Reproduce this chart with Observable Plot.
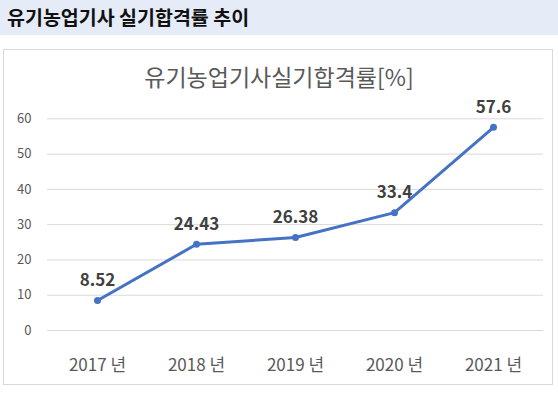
<!DOCTYPE html>
<html>
<head>
<meta charset="utf-8">
<script src="https://cdn.jsdelivr.net/npm/d3@7"></script>
<script src="https://cdn.jsdelivr.net/npm/@observablehq/plot@0.6"></script>
<style>
  html, body { margin: 0; padding: 0; background: #fff; }
  #page { position: relative; width: 558px; height: 395px; overflow: hidden; font-family: "Noto Sans CJK KR", "Noto Sans", sans-serif; }
  #header { position: absolute; left: 0; top: 0; width: 558px; height: 35px; background: #e5ecf7; }
  #header span { position: absolute; left: 7px; top: 5px; font-size: 19.5px; font-weight: bold; color: #111; line-height: 24px; }
  #box { position: absolute; left: 3px; top: 49px; width: 548px; height: 334px; border: 1px solid #d9d9d9; box-sizing: content-box; }
  #ctitle { position: absolute; left: 0; top: 61px; width: 558px; text-align: center; font-size: 23px; color: #595959; line-height: 30px; }
  #chart { position: absolute; left: 0; top: 0; }
</style>
</head>
<body>
<div id="page">
  <div id="header"><span>유기농업기사 실기합격률 추이</span></div>
  <div id="box"></div>
  <div id="ctitle">유기농업기사실기합격률[%]</div>
  <div id="chart"></div>
</div>
<script>
const years = ["2017 년", "2018 년", "2019 년", "2020 년", "2021 년"];
const rates = [8.52, 24.43, 26.38, 33.4, 57.6];
const labels = ["8.52", "24.43", "26.38", "33.4", "57.6"];
const yTicks = [0, 10, 20, 30, 40, 50, 60];

const data = years.map((y, i) => ({year: y, rate: rates[i], label: labels[i]}));

const chart = Plot.plot({
  width: 558,
  height: 395,
  marginLeft: 47,
  marginRight: 15,
  marginTop: 118.3,
  marginBottom: 65,
  style: {background: "transparent", fontFamily: "'Noto Sans CJK KR', sans-serif"},
  x: {type: "point", domain: years, padding: 0.5, label: null},
  y: {domain: [0, 60], label: null},
  marks: [
    Plot.ruleY(yTicks, {stroke: "#d9d9d9", strokeWidth: 1}),
    Plot.axisY(yTicks, {tickSize: 0, tickPadding: 16, fontSize: 13, fill: "#595959", label: null}),
    Plot.axisX(years, {tickSize: 0, tickPadding: 28, fontSize: 17, fill: "#595959", label: null}),
    Plot.line(data, {x: "year", y: "rate", stroke: "#4472c4", strokeWidth: 3, strokeLinejoin: "round"}),
    Plot.dot(data, {x: "year", y: "rate", r: 3.5, fill: "#4472c4", stroke: "none"}),
    Plot.text(data, {x: "year", y: "rate", text: "label", dy: -20, fontSize: 17, fontWeight: "bold", fill: "#404040"})
  ]
});
document.getElementById("chart").appendChild(chart);
</script>
</body>
</html>
